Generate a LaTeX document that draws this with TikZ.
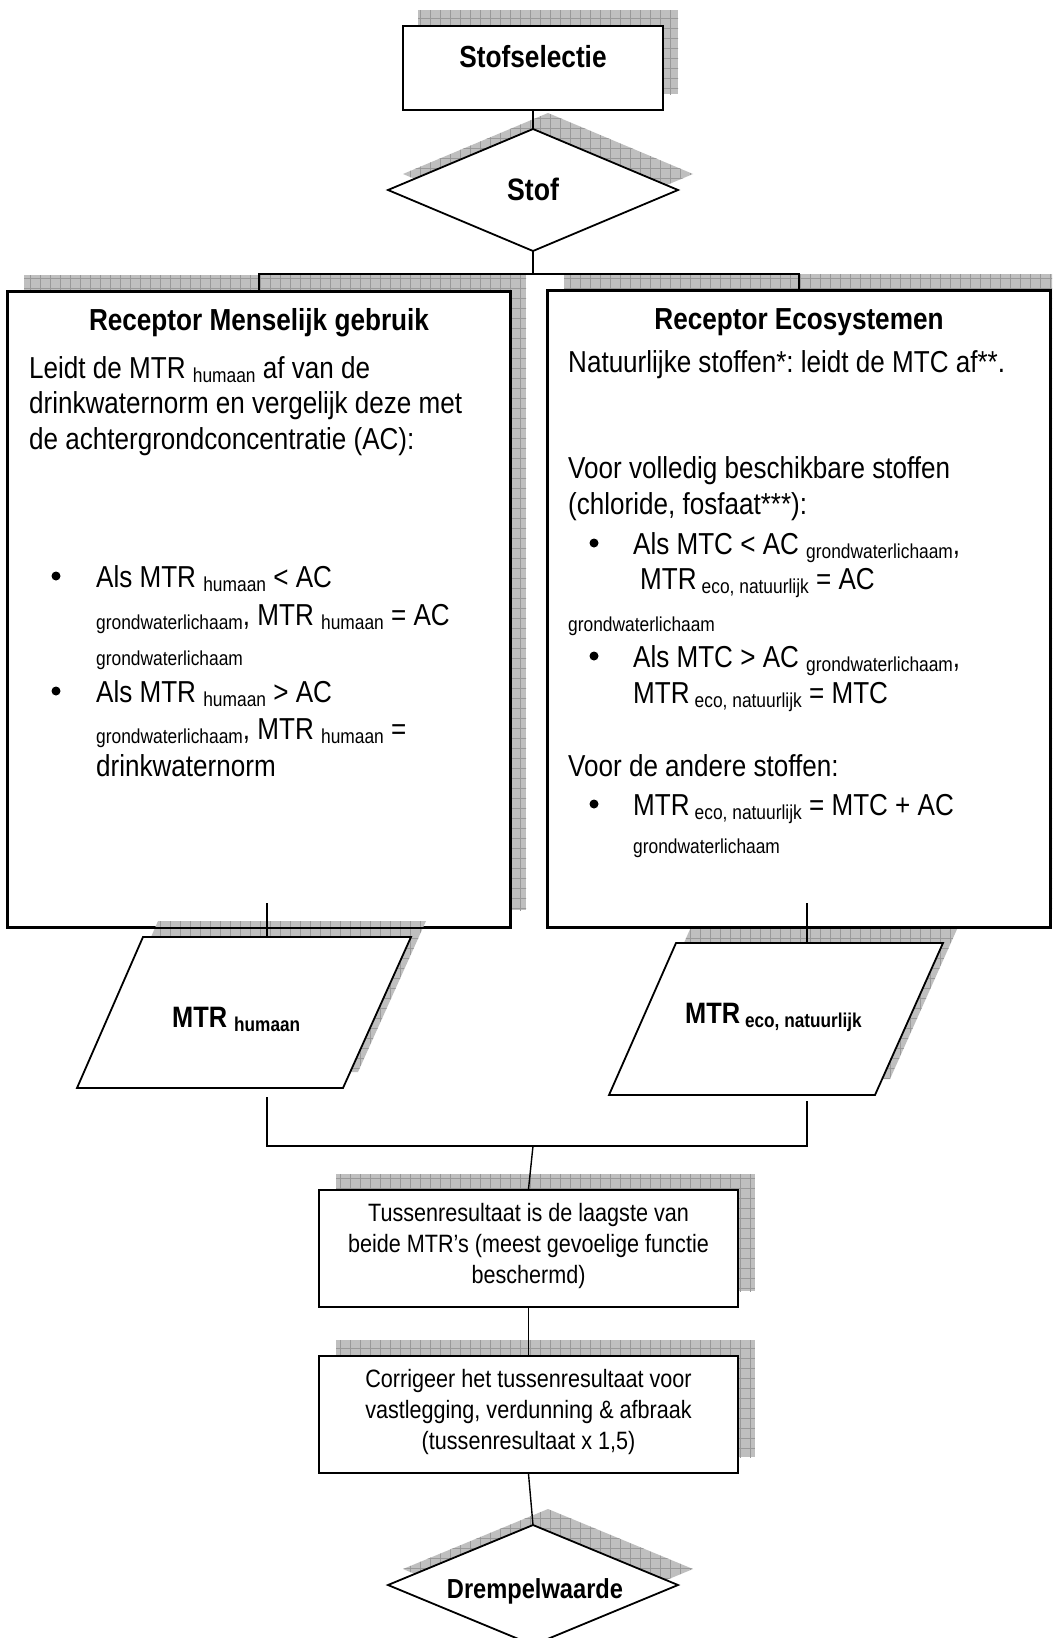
\documentclass[tikz,border=0pt]{standalone}
\usepackage{fontspec}
\setmainfont{Liberation Sans}[FakeStretch=0.86]
\usetikzlibrary{patterns.meta}
\frenchspacing
\newcommand{\bodyf}{\fontsize{30.3}{36}\selectfont}
\newcommand{\smallf}{\fontsize{20.2}{24}\selectfont}
\newcommand{\lowtxt}[1]{\raisebox{-4pt}{\smallf #1}}
\newcommand{\lowbold}[1]{\raisebox{-4pt}{\fontsize{20}{24}\selectfont\bfseries #1}}
\tikzset{
  sdw/.style={draw=none, fill=black!25, postaction={pattern={Hatch[angle=0,distance=10pt,line width=0.6pt]}, pattern color=black!40}},
  frame/.style={draw=black, line width=1.8pt, fill=white},
  rectnode/.style={frame, inner sep=0pt},
  conn/.style={draw=black, line width=1.4pt},
  linetxt/.style={inner sep=0pt, anchor=base west, font=\bodyf},
  titletxt/.style={inner sep=0pt, anchor=base, font=\fontsize{30.4}{34}\selectfont\bfseries},
  bul/.style={circle, fill=black, inner sep=0pt, minimum size=9pt},
  lowbox/.style={inner sep=0pt, align=center, font=\fontsize{25.1}{31}\selectfont},
}
\begin{document}
\begin{tikzpicture}[x=1pt,y=-1pt]
\useasboundingbox (0,0) rectangle (1052,1638);
\clip (0,0) rectangle (1052,1638);
\fill[white] (0,0) rectangle (1052,1638);

% ---- first shadows
\path[sdw] (418,10) rectangle (678,94);
\path[sdw] (403,174) -- (548,113) -- (693,174) -- (548,235) -- cycle;
\path[sdw] (24,275) rectangle (526,910);
\path[sdw] (564,274) rectangle (1066,910);

% ---- first shapes
\node[rectnode, minimum width=260pt, minimum height=84pt] (sel) at (533,68) {};
\coordinate (stofT) at (533,129);
\coordinate (stofB) at (533,251);
\path[frame] (388,190) -- (stofT) -- (678,190) -- (stofB) -- cycle;
\node[rectnode, minimum width=502pt, minimum height=635pt] (lbox) at (259,609.5) {};
\node[rectnode, minimum width=502pt, minimum height=636pt] (rbox) at (799,609) {};

% ---- second shadows
\path[sdw] (92,1072) -- (158,921) -- (426,921) -- (358,1072) -- cycle;
\path[sdw] (624,1079) -- (691,927) -- (958,927) -- (890,1079) -- cycle;
\path[sdw] (336,1174) rectangle (755,1291);
\path[sdw] (336,1340) rectangle (755,1457);
\path[sdw] (403,1569) -- (548,1509) -- (693,1569) -- (548,1629) -- cycle;

% redraw box outlines over the shadows
\draw[line width=1.8pt] (lbox.south west) rectangle (lbox.north east);
\draw[line width=1.8pt] (rbox.south west) rectangle (rbox.north east);

% ---- second shapes
\path[frame] (77,1088) -- (143,937) -- (411,937) -- (343,1088) -- cycle;
\path[frame] (609,1095) -- (676,943) -- (943,943) -- (875,1095) -- cycle;
\node[rectnode, minimum width=419pt, minimum height=117pt] (tus) at (528.5,1248.5) {};
\node[rectnode, minimum width=419pt, minimum height=117pt] (cor) at (528.5,1414.5) {};
\coordinate (drT) at (533,1525);
\path[frame] (388,1585) -- (drT) -- (678,1585) -- (533,1645) -- cycle;

% ---- connector points
\coordinate (split) at (533,274);
\coordinate (lpT) at (267,937);
\coordinate (rpT) at (807,943);
\coordinate (lfrom) at (267,903);
\coordinate (rfrom) at (807,903);
\coordinate (lpB) at (267,1097);
\coordinate (rpB) at (807,1101);
\coordinate (join) at (533,1146);

% ---- connectors
\draw[conn] (sel.south) -- (stofT);
\draw[conn] (stofB) -- (split);
\draw[conn] (split) -| (lbox.north);
\draw[conn] (split) -| (rbox.north);
\draw[conn] (lfrom) -- (lpT);
\draw[conn] (rfrom) -- (rpT);
\draw[conn] (lpB) |- (join);
\draw[conn] (rpB) |- (join);
\draw[conn] (join) -- (tus.north);
\draw[conn] (tus.south) -- (cor.north);
\draw[conn] (cor.south) -- (drT);

% ---- texts top
\node[inner sep=0pt, anchor=base, font=\fontsize{30.5}{34}\selectfont\bfseries] (tsel) at (533,67) {Stofselectie};
\node[inner sep=0pt, anchor=base, font=\fontsize{31}{34}\selectfont\bfseries] (tstof) at (533,200) {Stof};

% ---- left box texts
\node[titletxt] (l0) at (259,330) {Receptor Menselijk gebruik};
\node[linetxt] (l1) at (29,378) {Leidt de MTR \lowtxt{humaan} af van de};
\node[linetxt] (l2) at (29,413) {drinkwaternorm en vergelijk deze met};
\node[linetxt] (l3) at (29,449) {de achtergrondconcentratie (AC):};
\node[bul] (lb1) at (56,576) {};
\node[linetxt] (l4) at (96,587) {Als MTR \lowtxt{humaan} < AC};
\node[linetxt] (l5) at (96,625) {\lowtxt{grondwaterlichaam}, MTR \lowtxt{humaan} = AC};
\node[linetxt, font=\smallf] (l6) at (96,665) {grondwaterlichaam};
\node[bul] (lb2) at (56,691) {};
\node[linetxt] (l7) at (96,702) {Als MTR \lowtxt{humaan} > AC};
\node[linetxt] (l8) at (96,739) {\lowtxt{grondwaterlichaam}, MTR \lowtxt{humaan} =};
\node[linetxt] (l9) at (96,776) {drinkwaternorm};

% ---- right box texts
\node[titletxt] (r0) at (799,329) {Receptor Ecosystemen};
\node[linetxt] (r1) at (568,372) {Natuurlijke stoffen*: leidt de MTC af**.};
\node[linetxt] (r2) at (568,478) {Voor volledig beschikbare stoffen};
\node[linetxt] (r3) at (568,514) {(chloride, fosfaat***):};
\node[bul] (rb1) at (594,543) {};
\node[linetxt] (r4) at (633,554) {Als MTC < AC \lowtxt{grondwaterlichaam},};
\node[linetxt] (r5) at (640,589) {MTR\,\lowtxt{eco, natuurlijk} = AC};
\node[linetxt, font=\smallf] (r6) at (568,631) {grondwaterlichaam};
\node[bul] (rb2) at (594,656) {};
\node[linetxt] (r7) at (633,667) {Als MTC > AC \lowtxt{grondwaterlichaam},};
\node[linetxt] (r8) at (633,703) {MTR\,\lowtxt{eco, natuurlijk} = MTC};
\node[linetxt] (r9) at (568,776) {Voor de andere stoffen:};
\node[bul] (rb3) at (594,804) {};
\node[linetxt] (r10) at (633,815) {MTR\,\lowtxt{eco, natuurlijk} = MTC + AC};
\node[linetxt, font=\smallf] (r11) at (633,853) {grondwaterlichaam};

% ---- parallelogram texts
\node[inner sep=0pt, anchor=base west, font=\fontsize{29.5}{34}\selectfont\bfseries] (mh) at (172,1027) {MTR \lowbold{humaan}};
\node[inner sep=0pt, anchor=base west, font=\fontsize{29.5}{34}\selectfont\bfseries] (me) at (685,1023) {MTR\,\lowbold{eco, natuurlijk}};

% ---- lower texts
\node[lowbox] (ttus) at (528.5,1246) {Tussenresultaat is de laagste van\\beide MTR’s (meest gevoelige functie\\beschermd)};
\node[lowbox] (tcor) at (528.5,1412) {Corrigeer het tussenresultaat voor\\vastlegging, verdunning \& afbraak\\(tussenresultaat x 1,5)};
\node[inner sep=0pt, anchor=base, font=\fontsize{27.5}{32}\selectfont\bfseries] (tdr) at (535,1598) {Drempelwaarde};
\end{tikzpicture}
\end{document}
